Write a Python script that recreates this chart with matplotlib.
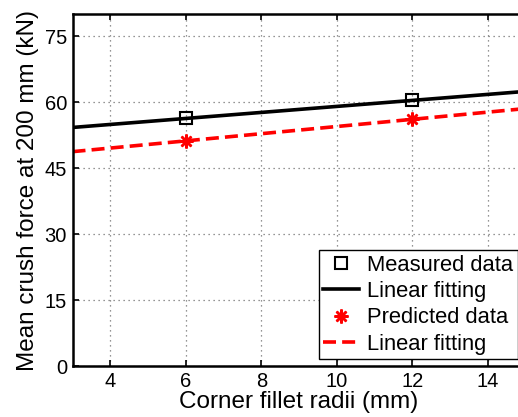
import numpy as np
import matplotlib
matplotlib.use("Agg")
import matplotlib.pyplot as plt

plt.rcParams['font.family'] = ['Liberation Sans', 'DejaVu Sans']

# corner fillet radius (mm) vs mean crush force at 200 mm (kN)
radii = [6, 12]
measured = [56.3, 60.4]
predicted = [51.2, 56.1]

x_ticks = [4, 6, 8, 10, 12, 14]
y_ticks = [0, 15, 30, 45, 60, 75]

fig = plt.figure(figsize=(5.18, 4.17), dpi=100)
# right spine sits just past the canvas edge
ax = fig.add_axes([0.140, 0.122, 0.8745, 0.844])

xs = np.linspace(3, 15, 50)
pm = np.polyfit(radii, measured, 1)
pp = np.polyfit(radii, predicted, 1)

ax.plot(radii, measured, 's', ms=8, mfc='none', mec='black', mew=1.5, zorder=5,
        label='Measured data')
ax.plot(xs, np.polyval(pm, xs), '-', color='black', lw=2.6, label='Linear fitting')
ax.plot(radii, predicted, marker=(8, 2, 0), ls='none', ms=10, mec='red', mew=1.8,
        color='red', zorder=5, label='Predicted data')
ax.plot(xs, np.polyval(pp, xs), '--', color='red', lw=2.6, dashes=(3.6, 1.7),
        label='Linear fitting')

ax.set_xlim(3, 15)
ax.set_ylim(0, 80)
ax.set_xticks(x_ticks)
ax.set_yticks(y_ticks)
ax.tick_params(direction='in', labelsize=14.5, length=4, width=1.2, top=True, right=True,
               pad=4)
ax.grid(True, ls=(0, (1, 3)), color='0.45', lw=0.9)
for s in ax.spines.values():
    s.set_linewidth(1.8)

ax.set_xlabel('Corner fillet radii (mm)', fontsize=17.5, labelpad=0)
ax.set_ylabel('Mean crush force at 200 mm (kN)', fontsize=17.5, labelpad=4)

leg = ax.legend(loc='lower left', bbox_to_anchor=(319 / 518, 1 - 359 / 417),
                bbox_transform=fig.transFigure, fontsize=15.8, frameon=True,
                fancybox=False, edgecolor='black', framealpha=1,
                handlelength=1.6, handletextpad=0.4, borderpad=0.2,
                labelspacing=0.24, borderaxespad=0)
leg.get_frame().set_linewidth(1.0)

fig.savefig("out.png", dpi=100)
